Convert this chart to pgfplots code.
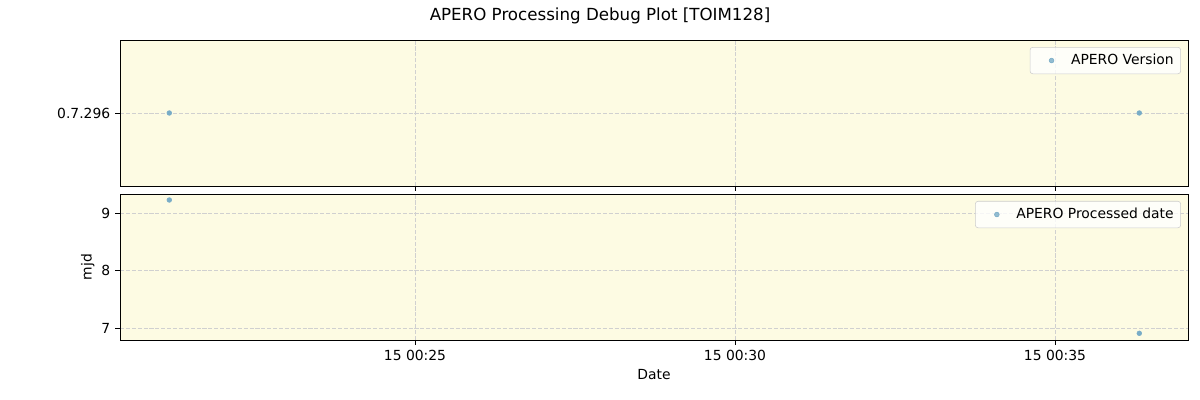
\documentclass[border=0pt]{standalone}
\usepackage{fontspec}
\setmainfont{DejaVu Sans}
\usepackage{pgfplots}
\pgfplotsset{compat=1.18}
\definecolor{bgyellow}{RGB}{253,251,227}
\definecolor{ptblue}{RGB}{31,119,180}
\colorlet{mk}{ptblue!60!bgyellow}
\definecolor{gridgray}{RGB}{208,208,208}
\definecolor{legframe}{RGB}{204,204,204}
\pgfplotsset{
  dbg/.style={
    scale only axis,
    width=768.96pt, height=105.12pt,
    axis background/.style={fill=bgyellow},
    xmin=20.3906, xmax=37.078,
    xtick={25,30,35},
    xtick pos=bottom, ytick pos=left,
    tick align=outside,
    major tick length=3.5pt,
    tick style={black, line width=0.6pt},
    axis line style={line width=0.6pt},
    grid=major,
    major grid style={gridgray, line width=0.6pt, dash pattern=on 2.96pt off 1.28pt},
    tick label style={font=\fontsize{10}{12}\selectfont},
    label style={font=\fontsize{10}{12}\selectfont},
    /pgf/number format/assume math mode=true,
    legend cell align=left,
    legend style={font=\fontsize{10}{12}\selectfont, draw=legframe, rounded corners=2pt, fill=white, fill opacity=0.8, text opacity=1, at={(rel axis cs:0.9934,0.952)}, anchor=north east, inner xsep=3pt, inner ysep=3pt},
    legend image code/.code={\path[draw=none] (-2.5pt,0pt) -- (22pt,0pt); \fill[mk] (10pt,0pt) circle (1.7pt);},
  }
}
\begin{document}
\begin{tikzpicture}
\path[use as bounding box] (0,0) rectangle (864pt,288pt);
\node[font=\fontsize{12}{14}\selectfont] at (432pt,276.5pt) {APERO Processing Debug Plot [TOIM128]};
\begin{axis}[dbg,
  at={(86.4pt,154.08pt)}, anchor=south west,
  ymin=-1, ymax=1,
  ytick={0}, yticklabels={0.7.296},
  xticklabels={},
]
\addplot[only marks, mark=*, mark size=1.7pt, color=mk, mark options={draw=mk, fill=mk}] coordinates {(21.161,0) (36.317,0)};
\addlegendentry{APERO Version}
\end{axis}
\begin{axis}[dbg,
  at={(86.4pt,43.2pt)}, anchor=south west,
  ymin=6.797, ymax=9.33,
  ytick={7,8,9},
  xticklabels={15 00:25, 15 00:30, 15 00:35},
  xlabel={Date}, ylabel={mjd},
  ylabel style={yshift=-2pt},
]
\addplot[only marks, mark=*, mark size=1.7pt, color=mk, mark options={draw=mk, fill=mk}] coordinates {(21.161,9.226) (36.317,6.913)};
\addlegendentry{APERO Processed date}
\node[anchor=south west, inner sep=0pt, font=\fontsize{10}{12}\selectfont] at ([yshift=0.5pt]rel axis cs:0,1) {1e−8+6.111475499e4};
\end{axis}
\end{tikzpicture}
\end{document}
